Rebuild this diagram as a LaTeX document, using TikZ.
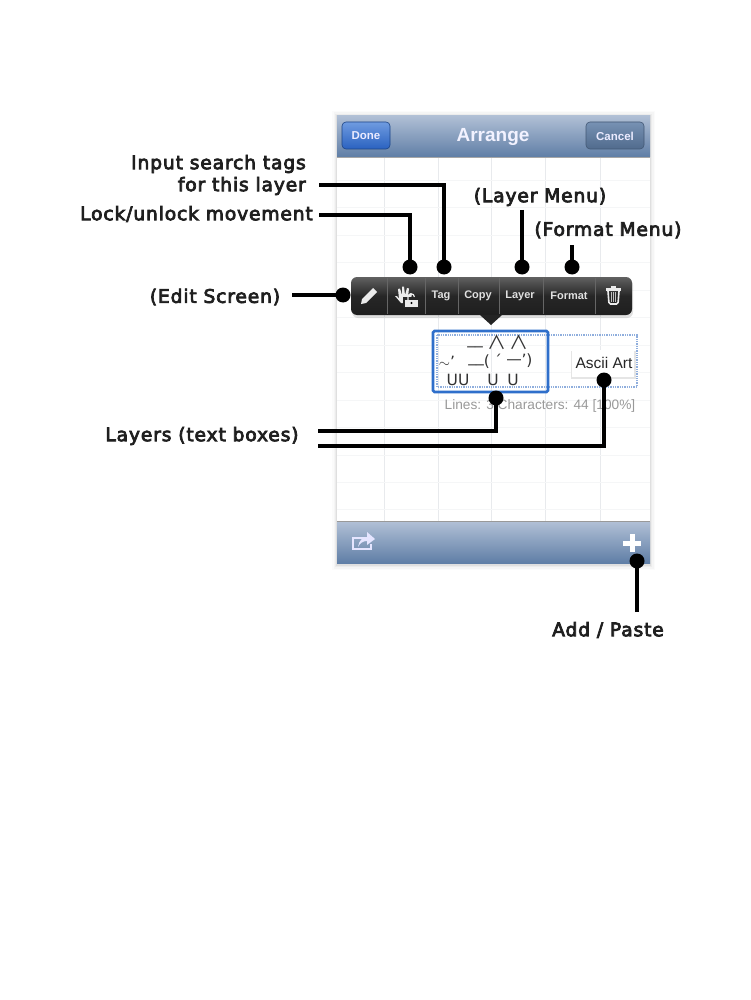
\documentclass[tikz,border=0pt]{standalone}
\usepackage{fontspec}
\setmainfont{DejaVu Sans}
\newfontfamily\uifont{Liberation Sans}
\newfontfamily\catfont{Noto Sans CJK JP}
\newfontfamily\callfont[FakeBold=4,LetterSpace=4.5]{DejaVu Sans}
\usetikzlibrary{calc}
\definecolor{barTop}{HTML}{B0BFD5}
\definecolor{barBot}{HTML}{5F7EA6}
\definecolor{gridc}{HTML}{E8EAED}
\definecolor{selblue}{HTML}{2F6FCB}
\definecolor{dotblue}{HTML}{8FAEDD}
\definecolor{doneTop}{HTML}{6F9BE0}
\definecolor{doneBot}{HTML}{2A62C0}
\tikzset{
  callout/.style={font=\callfont\fontsize{18.7}{20}\selectfont, text=black!88, inner sep=0pt},
  lead/.style={draw=black, line width=3.2pt, line join=miter},
  dot/.style={circle, fill=black, draw=none, minimum size=15pt, inner sep=0pt},
  bartext/.style={font=\uifont\bfseries\fontsize{11}{12}\selectfont, text=white!88!black, inner sep=0pt},
  navtext/.style={font=\uifont\bfseries\fontsize{11.5}{12}\selectfont, text=white!92!blue, inner sep=0pt},
  gridline/.style={draw=gridc, line width=0.8pt},
  navbtn/.style={rounded corners=4pt, draw=#1!70!black, line width=0.6pt},
  asc/.style={font=\fontsize{15.5}{16}\selectfont, text=black!80, inner sep=0pt},
  icon/.style={fill=white!92!black, draw=none},
}
\begin{document}
\begin{tikzpicture}[x=1pt,y=-1pt]
\useasboundingbox (0,0) rectangle (750,1000);
\fill[white] (0,0) rectangle (750,1000);
% soft shadow of the screen
\foreach \d/\o in {5/0.015,3.5/0.025,2/0.035,1/0.05}
  \fill[black,opacity=\o] (337-\d,116-\d) rectangle (650+\d,564+\d+1);
% page
\fill[white] (337,116) rectangle (650,564);
\foreach \x in {384,438,491,545,600}
  \draw[gridline] (\x,157) -- (\x,522);
\foreach \y in {180,207,235,262,290,317,345,372,400,427,455,482,509}
  \draw[gridline,draw=gridc!45] (337,\y) -- (650,\y);
% nav bar
\shade[top color=barTop,bottom color=barBot] (337,116) rectangle (650,157);
\draw[black!35,line width=0.6pt] (337,157) -- (650,157);
\node[font=\uifont\bfseries\fontsize{19}{20}\selectfont,text=white!95!blue] (title) at (493,137) {Arrange};
\shade[navbtn=doneBot,top color=doneTop,bottom color=doneBot] (342,122) rectangle (390,149);
\node[navtext] (done) at (366,136) {Done};
\shade[navbtn=barBot,top color=barBot!85!white,bottom color=barBot!85!black] (586,122) rectangle (644,149);
\node[navtext] (cancel) at (615,136) {Cancel};
% bottom bar
\draw[black!40,line width=0.8pt] (337,521) -- (650,521);
\shade[top color=barTop,bottom color=barBot] (337,522) rectangle (650,563);
% share icon
\draw[white!90!blue,line width=1.5pt] (370,538) -- (353,538) -- (353,549) -- (371,549) -- (371,544);
\fill[white!90!blue] (358,547) .. controls (359,540) and (363,537) .. (367,537) -- (367,532) -- (375,539) -- (367,545) -- (367,541) .. controls (363,541) and (360,543) .. (358,547) -- cycle;
% plus icon
\fill[white] (629.5,534) rectangle (634.5,552);
\fill[white] (623,541) rectangle (641,546);
% toolbar
\fill[black,opacity=0.12] (352,279) [rounded corners=6pt] rectangle (633,318);
\shade[rounded corners=6pt,top color=black!62,bottom color=black!88,middle color=black!85] (351,277) rectangle (632,315);
\fill[black!86] (480,315) -- (502,315) -- (491,325) -- cycle;
\foreach \x in {387,425,458,499,543,595}
  \draw[black!60,line width=0.6pt] (\x,278) -- (\x,314);
\node[bartext] (ttag) at (441,296) {Tag};
\node[bartext] (tcopy) at (478,296) {Copy};
\node[bartext] (tlayer) at (520,296) {Layer};
\node[bartext] (tformat) at (569,296) {Format};
% pencil
\fill[icon] (361,304) -- (362,299) -- (373,288) -- (377,292) -- (366,303) -- cycle;
% hand
\fill[icon] (395,296) -- (397,296) -- (399,299) -- (398,289) -- (400,288.5) -- (402,295) -- (402,286.5) -- (404,286.5) -- (405,295) -- (407,288) -- (409,288.5) -- (408,297) -- (410,293) -- (412,294) -- (410,303) -- (401,303) -- cycle;
% lock
\fill[black!85] (403,297) rectangle (420,308);
\fill[icon] (405,300) rectangle (418,306.5);
\draw[white!92!black,line width=1.2pt] (408,300) -- (408,297) arc (180:360:3.2);
\fill[black] (411.5,303) circle (1.2pt);
% trash
\fill[icon] (605.5,288) rectangle (621,290.5);
\fill[icon] (611,286) rectangle (616,288);
\draw[white!92!black,line width=1.6pt,rounded corners=1.5pt] (608,291) -- (609,304) -- (618,304) -- (619,291);
\foreach \x in {611.5,613.5,615.5}
  \draw[white!75!black,line width=0.6pt] (\x,292) -- (\x,302);
% layers
\draw[dotblue,line width=1.3pt,densely dotted] (437,335) rectangle (637,387);
\draw[selblue,line width=2.8pt,rounded corners=1.5pt] (433,331) rectangle (548,392);
\fill[black!10] (571,351) rectangle (636,379);
\fill[white] (572,350) rectangle (634,377);
\node[font=\uifont\fontsize{15.5}{16}\selectfont,text=black!85,inner sep=0pt] (ascii) at (604,363) {Ascii Art};
% ascii cat
\node[asc,font=\catfont\fontsize{19}{19}\selectfont] (a1) at (497,342.5) {∧};
\node[asc,font=\catfont\fontsize{19}{19}\selectfont] (a2) at (519,342.5) {∧};
\node[asc] (a3) at (447,362) {$\sim$’};
\node[asc] (a4) at (475,353) {‾‾};
\node[asc] (a5) at (487,362) {(};
\node[asc] (a6) at (498,360) {´};
\node[asc] (a7) at (514,362) {—};
\node[asc] (a8) at (527,361) {’)};
\node[asc] (a9) at (458,380) {UU};
\node[asc] (a10) at (476,371) {‾‾};
\node[asc] (a11) at (493,380) {U};
\node[asc] (a12) at (513,380) {U};
% status
\node[font=\uifont\fontsize{13.7}{14}\selectfont,text=black!40,inner sep=0pt] (status) at (540,405.5) {Lines: 3 Characters: 44 [100\%]};
% callout labels
\node[callout,anchor=east] (linput) at (306,164) {Input search tags};
\node[callout,anchor=east] (lthis) at (306,186) {for this layer};
\node[callout,anchor=east] (llock) at (313,214) {Lock/unlock movement};
\node[callout,anchor=center] (ledit) at (215,297) {(Edit Screen)};
\node[callout,anchor=center] (llayer) at (540,197) {(Layer Menu)};
\node[callout,anchor=center] (lformat) at (608,230) {(Format Menu)};
\node[callout,anchor=center] (ltext) at (202,436) {Layers (text boxes)};
\node[callout,anchor=center] (ladd) at (608,630) {Add / Paste};
% dots
\node[dot] (dlock) at (410,267) {};
\node[dot] (dtag) at (444,267) {};
\node[dot] (dlayer) at (522,267) {};
\node[dot] (dformat) at (572,267) {};
\node[dot] (dedit) at (343,295) {};
\node[dot] (dcat) at (496,398) {};
\node[dot] (dart) at (604,380) {};
\node[dot] (dadd) at (637,561) {};
% free ends
\coordinate (stag) at (319,185);
\coordinate (slock) at (319,215);
\coordinate (sedit) at (292,295);
\coordinate (slayer) at (522,210);
\coordinate (sformat) at (572,245);
\coordinate (scat) at (318,431);
\coordinate (sart) at (318,446);
\coordinate (sadd) at (637,612);
% connectors
\draw[lead] (stag) -| (dtag.center);
\draw[lead] (slock) -| (dlock.center);
\draw[lead] (sedit) -- (dedit.center);
\draw[lead] (slayer) -- (dlayer.center);
\draw[lead] (sformat) -- (dformat.center);
\draw[lead] (scat) -| (dcat.center);
\draw[lead] (sart) -| (dart.center);
\draw[lead] (sadd) -- (dadd.center);
\end{tikzpicture}
\end{document}
